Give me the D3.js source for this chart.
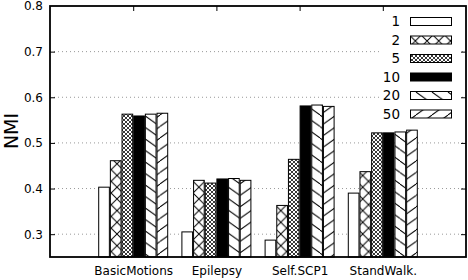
<!DOCTYPE html>
<html><head><meta charset="utf-8">
<script src="https://cdn.jsdelivr.net/npm/d3@7"></script>
<style>body{margin:0;background:#fff}svg{display:block}text{font-family:"DejaVu Sans",sans-serif}</style>
</head><body><div id="chart"></div>
<script>
const categories = ["BasicMotions", "Epilepsy", "Self.SCP1", "StandWalk."];
const seriesNames = ["1", "2", "5", "10", "20", "50"];
const s1  = [0.403, 0.305, 0.287, 0.390];
const s2  = [0.461, 0.418, 0.363, 0.437];
const s5  = [0.563, 0.412, 0.464, 0.522];
const s10 = [0.559, 0.421, 0.581, 0.522];
const s20 = [0.563, 0.422, 0.583, 0.524];
const s50 = [0.565, 0.418, 0.580, 0.528];
const seriesValues = [s1, s2, s5, s10, s20, s50];
const yTicks = [0.3, 0.4, 0.5, 0.6, 0.7, 0.8];
const yLabel = "NMI";

const W = 468, H = 280;
const L = 50, R = 466, T = 6, B = 257;
const svg = d3.select("#chart").append("svg").attr("width", W).attr("height", H);
const defs = svg.append("defs");

function pat(id, w, h, draw) {
  const p = defs.append("pattern").attr("id", id).attr("patternUnits", "userSpaceOnUse")
    .attr("width", w).attr("height", h);
  p.append("rect").attr("width", w).attr("height", h).attr("fill", "#fff");
  draw(p, w, h);
}
pat("p2", 11.7, 11.7, (p, w, h) => {
  p.append("path").attr("d", `M0,0L${w},${h}M${w},0L0,${h}`).attr("stroke", "#000").attr("stroke-width", 1);
});
pat("p3", 4, 4, (p, w, h) => {
  p.append("path").attr("d", `M0,0L${w},${h}M${w},0L0,${h}`).attr("stroke", "#222").attr("stroke-width", 0.9);
});
pat("p5", 16, 11.5, (p, w, h) => {
  p.append("path").attr("d", `M0,0L${w},${h}M${-w},0L0,${h}M${w},0L${2*w},${h}`).attr("stroke", "#000").attr("stroke-width", 1);
});
pat("p6", 16, 11.5, (p, w, h) => {
  p.append("path").attr("d", `M0,${h}L${w},0M${-w},${h}L0,0M${w},${h}L${2*w},0`).attr("stroke", "#000").attr("stroke-width", 1);
});
const fills = ["#fff", "url(#p2)", "url(#p3)", "#000", "url(#p5)", "url(#p6)"];

const x = d3.scalePoint().domain(categories).range([L, R]).padding(1);
const inner = d3.scaleBand().domain(seriesNames).range([-35, 35]).paddingInner(0);
const y = d3.scaleLinear().domain([0.25, 0.8]).range([B, T]);

svg.append("g").selectAll("line").data(yTicks.filter(t => t < 0.8)).join("line")
  .attr("x1", L).attr("x2", R).attr("y1", d => y(d)).attr("y2", d => y(d))
  .attr("stroke", "#999").attr("stroke-width", 1).attr("stroke-dasharray", "1,3");

const gBars = svg.append("g");
seriesNames.forEach((s, si) => {
  gBars.append("g").selectAll("rect").data(seriesValues[si]).join("rect")
    .attr("x", (d, i) => x(categories[i]) + inner(s) + 0.5)
    .attr("y", d => y(d))
    .attr("width", inner.bandwidth() - 1)
    .attr("height", d => B - y(d))
    .attr("fill", fills[si]).attr("stroke", "#000").attr("stroke-width", 1);
});

const lg = svg.append("g");
lg.append("rect").attr("x", 382).attr("y", 10).attr("width", 80).attr("height", 114).attr("fill", "#fff");
seriesNames.forEach((s, i) => {
  const cy = 21.5 + i * 18.5;
  lg.append("rect").attr("x", 410.5).attr("y", cy - 4).attr("width", 41).attr("height", 8)
    .attr("fill", fills[i]).attr("stroke", "#000").attr("stroke-width", 1);
  lg.append("text").attr("x", 400).attr("y", cy).attr("dy", "0.36em").attr("text-anchor", "end")
    .attr("font-size", 13.5).text(s);
});

const yAxisL = d3.axisLeft(y).tickValues(yTicks).tickSize(0).tickPadding(7).tickFormat(d3.format(".1f"));
const gy = svg.append("g").attr("transform", `translate(${L},0)`).call(yAxisL);
gy.select(".domain").remove();
gy.selectAll("text").attr("font-size", 12).attr("font-family", "DejaVu Sans").attr("fill", "#000");

svg.append("g").attr("transform", `translate(${R},0)`)
  .call(d3.axisRight(y).tickValues(yTicks.filter(t => t < 0.8)).tickSize(-5).tickFormat(""))
  .call(g => g.select(".domain").remove());
svg.append("g").attr("transform", `translate(${L},0)`)
  .call(d3.axisLeft(y).tickValues(yTicks.filter(t => t < 0.8)).tickSize(-5).tickFormat(""))
  .call(g => g.select(".domain").remove());
svg.append("g").attr("transform", `translate(0,${T})`)
  .call(d3.axisTop(x).tickSize(-5).tickFormat(""))
  .call(g => g.select(".domain").remove());

const gx = svg.append("g").attr("transform", `translate(0,${B})`)
  .call(d3.axisBottom(x).tickSize(0).tickPadding(9));
gx.select(".domain").remove();
gx.selectAll("text").attr("font-size", 12).attr("font-family", "DejaVu Sans").attr("fill", "#000");

svg.append("rect").attr("x", L).attr("y", T).attr("width", R - L).attr("height", B - T)
  .attr("fill", "none").attr("stroke", "#000").attr("stroke-width", 1.8);

svg.append("text").attr("transform", `translate(16,131) rotate(-90)`).attr("text-anchor", "middle")
  .attr("dy", "0.1em").attr("font-size", 19).text(yLabel);
</script></body></html>
